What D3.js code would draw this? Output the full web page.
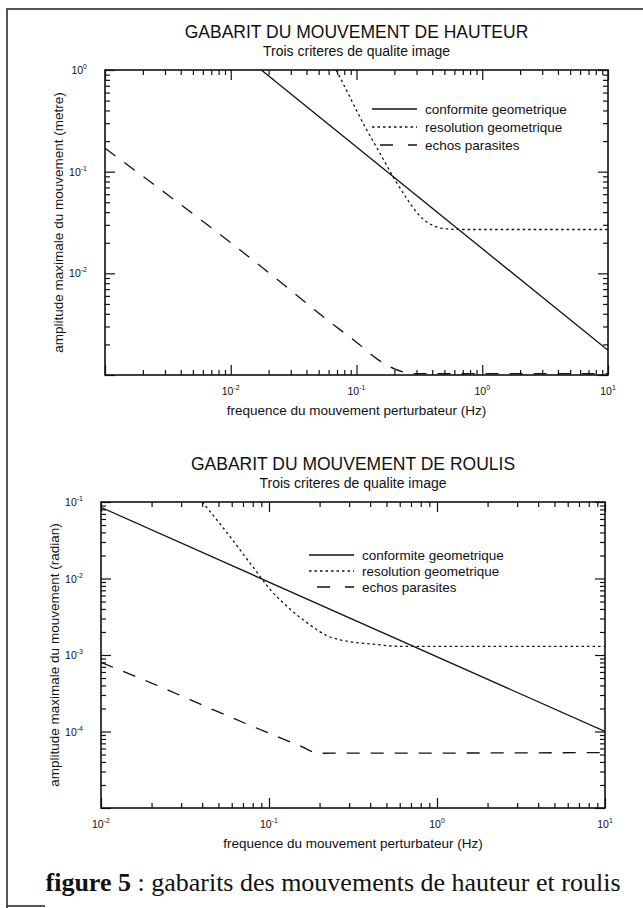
<!DOCTYPE html>
<html>
<head>
<meta charset="utf-8">
<script src="https://cdn.jsdelivr.net/npm/d3@7"></script>
<style>
  body { margin: 0; background: #fff; }
  text { fill: #111; }
</style>
</head>
<body>
<script>
// Our canvas
const width = 643,
  height = 908
const sans = '"Liberation Sans", Arial, sans-serif'

// --- data: top chart (hauteur) ---
const hautConformite = [[0.0175, 1], [10, 0.00175]]
const hautResolution = [[0.069, 1], [0.085, 0.6], [0.1, 0.4], [0.12, 0.26], [0.15, 0.16], [0.2, 0.085],
  [0.25, 0.055], [0.3, 0.04], [0.35, 0.033], [0.42, 0.029], [0.5, 0.0275], [0.7, 0.027], [10, 0.027]]
const hautEchos = [[0.001, 0.17], [0.003, 0.062], [0.01, 0.02], [0.03, 0.0068], [0.06, 0.0034],
  [0.1, 0.0021], [0.15, 0.0014], [0.2, 0.00115], [0.3, 0.00103], [10, 0.00103]]
const hautXDomain = [1e-3, 10]
const hautYDomain = [1e-3, 1]
const hautXLabels = [1e-2, 1e-1, 1, 10]
const hautYLabels = [1e-2, 1e-1, 1]

// --- data: bottom chart (roulis) ---
const roulConformite = [[0.01, 0.085], [10, 0.0001]]
const roulResolution = [[0.04, 0.1], [0.05, 0.055], [0.06, 0.033], [0.07, 0.021], [0.085, 0.012],
  [0.1, 0.0075], [0.13, 0.0042], [0.17, 0.0026], [0.22, 0.0018], [0.3, 0.0015], [0.4, 0.0014],
  [0.6, 0.0013], [10, 0.0013]]
const roulEchos = [[0.01, 0.0008], [0.02, 0.00043], [0.05, 0.00018], [0.1, 0.000095],
  [0.15, 0.000066], [0.2, 0.000052], [10, 0.000053]]
const roulXDomain = [1e-2, 10]
const roulYDomain = [1e-5, 1e-1]
const roulXLabels = [1e-2, 1e-1, 1, 10]
const roulYLabels = [1e-4, 1e-3, 1e-2, 1e-1]

const seriesNames = ['conformite geometrique', 'resolution geometrique', 'echos parasites']
const dashes = [null, '2.5,3', '13,11']
const legendDashes = [null, '2.5,3', '13,15']

let svg = d3.select('body')
  .append('svg')
  .attr('width', width)
  .attr('height', height)
  .style('font-family', sans)

// page border of the scan
svg.append('path')
  .attr('d', 'M7,908 L7,9 L643,9 M7,906 L45,906')
  .attr('fill', 'none')
  .attr('stroke', '#222')
  .attr('stroke-width', 1.5)

const isDecade = d => Math.abs(Math.log10(d) - Math.round(Math.log10(d))) < 1e-9

let addPow = (sel, d) => {
  const e = Math.round(Math.log10(d))
  sel.append('tspan').text('10')
  sel.append('tspan').attr('dy', -5).attr('font-size', 7).text(e)
}

let drawPanel = (p) => {
  const x = d3.scaleLog().domain(p.xDomain).range([p.left, p.right])
  const y = d3.scaleLog().domain(p.yDomain).range([p.bottom, p.top])
  const g = svg.append('g')
  const cx = (p.left + p.right) / 2

  g.append('text').attr('x', cx).attr('y', p.top - 32)
    .attr('text-anchor', 'middle').attr('font-size', 17.5).text(p.title)
  g.append('text').attr('x', cx).attr('y', p.top - 14)
    .attr('text-anchor', 'middle').attr('font-size', 14).text('Trois criteres de qualite image')

  // ticks on four sides, inward
  const xt = x.ticks(), yt = y.ticks()
  const sides = [
    [d3.axisBottom(x), xt, `translate(0,${p.bottom})`],
    [d3.axisTop(x), xt, `translate(0,${p.top})`],
    [d3.axisLeft(y), yt, `translate(${p.left},0)`],
    [d3.axisRight(y), yt, `translate(${p.right},0)`]
  ]
  sides.forEach(([ax, t, tr]) => {
    const a = g.append('g').attr('transform', tr)
    a.call(ax.tickValues(t.filter(d => !isDecade(d))).tickSize(-5).tickFormat(''))
    const b = g.append('g').attr('transform', tr)
    b.call(ax.tickValues(t.filter(isDecade)).tickSize(-10).tickFormat(''))
    a.select('.domain').remove()
    b.select('.domain').remove()
    g.selectAll('.tick line').attr('stroke', '#111').attr('stroke-width', 1.2)
  })

  g.append('rect')
    .attr('x', p.left).attr('y', p.top)
    .attr('width', p.right - p.left).attr('height', p.bottom - p.top)
    .attr('fill', 'none').attr('stroke', '#111').attr('stroke-width', 1.6)

  // tick labels
  g.selectAll('.xl').data(p.xLabels).enter().append('text')
    .attr('x', d => x(d)).attr('y', p.bottom + 20)
    .attr('text-anchor', 'middle').attr('font-size', 10.5)
    .each(function (d) { addPow(d3.select(this), d) })
  g.selectAll('.yl').data(p.yLabels).enter().append('text')
    .attr('x', p.left - 18).attr('y', d => y(d) + 4)
    .attr('text-anchor', 'end').attr('font-size', 10.5)
    .each(function (d) { addPow(d3.select(this), d) })

  g.append('text').attr('x', cx).attr('y', p.bottom + 40)
    .attr('text-anchor', 'middle').attr('font-size', 13.5)
    .text('frequence du mouvement perturbateur (Hz)')
  g.append('text')
    .attr('transform', `translate(${p.left - 42},${(p.top + p.bottom) / 2}) rotate(-90)`)
    .attr('text-anchor', 'middle').attr('font-size', 13.5)
    .text(p.yTitle)

  // curves
  const clipId = 'clip' + p.id
  svg.append('clipPath').attr('id', clipId).append('rect')
    .attr('x', p.left).attr('y', p.top - 1)
    .attr('width', p.right - p.left).attr('height', p.bottom - p.top + 1)
  const line = d3.line().x(d => x(d[0])).y(d => y(d[1])).curve(d3.curveMonotoneX)
  g.append('g').attr('clip-path', `url(#${clipId})`)
    .selectAll('path').data(p.series).enter().append('path')
    .attr('d', line)
    .attr('fill', 'none').attr('stroke', '#111').attr('stroke-width', 1.3)
    .attr('stroke-dasharray', (d, i) => dashes[i])

  // legend
  const lg = g.append('g').attr('transform', `translate(${p.legX},${p.legY})`)
  seriesNames.forEach((name, i) => {
    lg.append('line').attr('x1', 0).attr('x2', 45).attr('y1', i * p.legStep).attr('y2', i * p.legStep)
      .attr('stroke', '#111').attr('stroke-width', 1.3)
      .attr('stroke-dasharray', legendDashes[i])
      .attr('stroke-dashoffset', i === 2 ? 20 : 0)
    lg.append('text').attr('x', 53).attr('y', i * p.legStep + 5)
      .attr('font-size', 13.5).text(name)
  })
}

drawPanel({
  id: 'h', left: 105, right: 608, top: 70, bottom: 375,
  xDomain: hautXDomain, yDomain: hautYDomain, xLabels: hautXLabels, yLabels: hautYLabels,
  title: 'GABARIT DU MOUVEMENT DE HAUTEUR',
  yTitle: 'amplitude maximale du mouvement (metre)',
  series: [hautConformite, hautResolution, hautEchos],
  legX: 372, legY: 109, legStep: 18
})

drawPanel({
  id: 'r', left: 101, right: 605, top: 502, bottom: 808,
  xDomain: roulXDomain, yDomain: roulYDomain, xLabels: roulXLabels, yLabels: roulYLabels,
  title: 'GABARIT DU MOUVEMENT DE ROULIS',
  yTitle: 'amplitude maximale du mouvement (radian)',
  series: [roulConformite, roulResolution, roulEchos],
  legX: 309, legY: 555, legStep: 16
})

// caption
const cap = svg.append('text')
  .attr('x', 333).attr('y', 891)
  .attr('text-anchor', 'middle')
  .style('font-family', '"Liberation Serif", "Times New Roman", serif')
  .attr('font-size', 26)
cap.append('tspan').attr('font-weight', 'bold').text('figure 5')
cap.append('tspan').text(' : gabarits des mouvements de hauteur et roulis')
</script>
</body>
</html>
